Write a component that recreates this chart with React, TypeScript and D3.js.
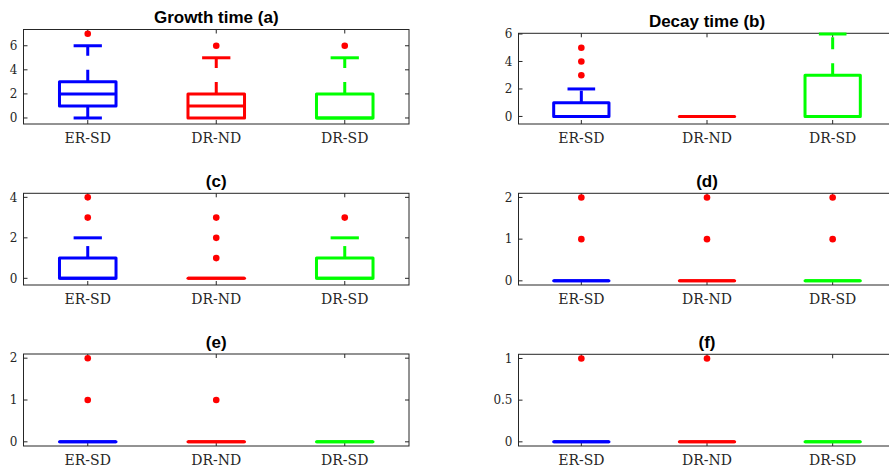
import React from "react";
import { scaleLinear } from "d3";

// group names on the x axis
const groups = ["ER-SD", "DR-ND", "DR-SD"];

// box stats per group: [lower whisker, q1, median, q3, upper whisker]
const statsA = [[0, 1, 2, 3, 6], [0, 0, 1, 2, 5], [0, 0, 0, 2, 5]];
const statsB = [[0, 0, 0, 1, 2], [0, 0, 0, 0, 0], [0, 0, 0, 3, 6]];
const statsC = [[0, 0, 0, 1, 2], [0, 0, 0, 0, 0], [0, 0, 0, 1, 2]];
const statsD = [[0, 0, 0, 0, 0], [0, 0, 0, 0, 0], [0, 0, 0, 0, 0]];
const statsE = [[0, 0, 0, 0, 0], [0, 0, 0, 0, 0], [0, 0, 0, 0, 0]];
const statsF = [[0, 0, 0, 0, 0], [0, 0, 0, 0, 0], [0, 0, 0, 0, 0]];

// outliers per group
const outA = [[7], [6], [6]];
const outB = [[3, 4, 5], [], []];
const outC = [[3, 4], [1, 2, 3], [3]];
const outD = [[1, 2], [1, 2], [1, 2]];
const outE = [[1, 2], [1], []];
const outF = [[1], [1], []];

// y ticks and titles
const ticksA = [0, 2, 4, 6];
const ticksB = [0, 2, 4, 6];
const ticksC = [0, 2, 4];
const ticksD = [0, 1, 2];
const ticksE = [0, 1, 2];
const ticksF = [0, 0.5, 1];
const titles = ["Growth time (a)", "Decay time (b)", "(c)", "(d)", "(e)", "(f)"];

const colors = ["#0000ff", "#ff0000", "#00ff00"];
const axisColor = "#262626";
const serif = "DejaVu Serif";
const sans = "Liberation Sans";

const panels = [
  { stats: statsA, out: outA, ticks: ticksA, y: [-0.5, 7.35], left: 23.5, right: 409, top: 29.5, bottom: 124 },
  { stats: statsB, out: outB, ticks: ticksB, y: [-0.55, 6.05], left: 518.5, right: 895.5, top: 33.3, bottom: 124 },
  { stats: statsC, out: outC, ticks: ticksC, y: [-0.33, 4.2], left: 23.5, right: 409, top: 193.3, bottom: 285 },
  { stats: statsD, out: outD, ticks: ticksD, y: [-0.1, 2.1], left: 518.5, right: 895.5, top: 193.3, bottom: 285 },
  { stats: statsE, out: outE, ticks: ticksE, y: [-0.1, 2.1], left: 23.5, right: 409, top: 354, bottom: 446 },
  { stats: statsF, out: outF, ticks: ticksF, y: [-0.05, 1.05], left: 518.5, right: 895.5, top: 354.3, bottom: 446 },
];

const Panel = ({ p, title }) => {
  const x = scaleLinear().domain([0.5, 3.5]).range([p.left, p.right]);
  const y = scaleLinear().domain(p.y).range([p.bottom, p.top]);
  const halfBox = 0.22;
  const halfCap = 0.11;
  const tk = 4;
  const cx = (p.left + p.right) / 2;

  return (
    <g>
      <rect x={p.left} y={p.top} width={p.right - p.left} height={p.bottom - p.top}
        fill="white" stroke={axisColor} strokeWidth={1} />
      {p.ticks.map((t, i) => (
        <g key={i}>
          <line x1={p.left} x2={p.left + tk} y1={y(t)} y2={y(t)} stroke={axisColor} />
          <line x1={p.right} x2={p.right - tk} y1={y(t)} y2={y(t)} stroke={axisColor} />
          <text x={p.left - 6} y={y(t)} dy="0.35em" textAnchor="end"
            fontFamily={serif} fontSize={12} fill={axisColor}>{t}</text>
        </g>
      ))}
      {groups.map((g, i) => (
        <g key={g}>
          <line x1={x(i + 1)} x2={x(i + 1)} y1={p.bottom} y2={p.bottom - tk} stroke={axisColor} />
          <line x1={x(i + 1)} x2={x(i + 1)} y1={p.top} y2={p.top + tk} stroke={axisColor} />
          <text x={x(i + 1)} y={p.bottom + 18.5} textAnchor="middle"
            fontFamily={serif} fontSize={14} fill={axisColor}>{g}</text>
        </g>
      ))}
      {p.stats.map((s, i) => {
        const [lo, q1, med, q3, hi] = s;
        const c = colors[i];
        const xc = x(i + 1);
        const x0 = x(i + 1 - halfBox);
        const x1 = x(i + 1 + halfBox);
        return (
          <g key={i} stroke={c} strokeWidth={3} fill="none">
            {hi > q3 && <line x1={xc} x2={xc} y1={y(q3)} y2={y(hi)} strokeDasharray="12 14" />}
            {lo < q1 && <line x1={xc} x2={xc} y1={y(q1)} y2={y(lo)} strokeDasharray="12 14" />}
            {hi > q3 && <line x1={x(i + 1 - halfCap)} x2={x(i + 1 + halfCap)} y1={y(hi)} y2={y(hi)} />}
            {lo < q1 && <line x1={x(i + 1 - halfCap)} x2={x(i + 1 + halfCap)} y1={y(lo)} y2={y(lo)} />}
            {q3 > q1 ? (
              <rect x={x0} y={y(q3)} width={x1 - x0} height={y(q1) - y(q3)} strokeLinejoin="round" />
            ) : (
              <line x1={x0} x2={x1} y1={y(q1)} y2={y(q1)} strokeLinecap="round" />
            )}
            <line x1={x0} x2={x1} y1={y(med)} y2={y(med)} />
          </g>
        );
      })}
      {p.out.map((o, i) =>
        o.map((v, j) => (
          <circle key={i + "-" + j} cx={x(i + 1)} cy={y(v)} r={3.3} fill="#ff0000" />
        ))
      )}
      <text x={cx} y={p.top - 6.5} textAnchor="middle"
        fontFamily={sans} fontWeight="bold" fontSize={17} fill="#000">{title}</text>
    </g>
  );
};

const App = () => {
  return (
    <svg width={889} height={468} style={{ position: "absolute", left: 0, top: 0, background: "white" }}>
      {panels.map((p, i) => (
        <Panel p={p} title={titles[i]} key={i} />
      ))}
    </svg>
  );
};

export default App;
